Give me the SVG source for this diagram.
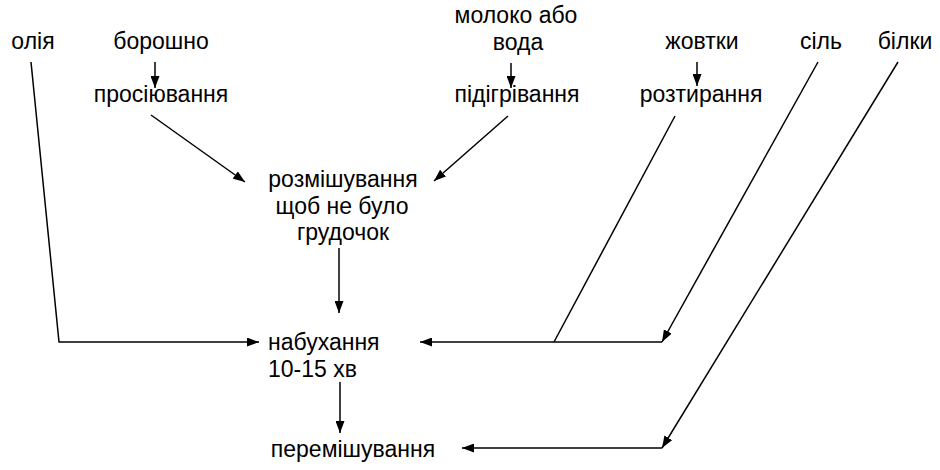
<svg xmlns="http://www.w3.org/2000/svg" width="940" height="470" viewBox="0 0 940 470">
<style>
text{font-family:"Liberation Sans",Arial,sans-serif;font-size:23px;fill:#000}
.c{text-anchor:middle}
.ln{stroke:#000;stroke-width:1.5;fill:none}
.ar{marker-end:url(#ah)}
</style>
<defs>
<marker id="ah" markerUnits="userSpaceOnUse" markerWidth="13" markerHeight="9" refX="12" refY="4.5" orient="auto">
<path d="M0,0 L12,4.5 L0,9 z" fill="#000"/>
</marker>
</defs>
<rect width="940" height="470" fill="#fff"/>
<g id="n-oliya"><text x="33" y="49" class="c">олія</text></g>
<g id="n-boroshno"><text x="161" y="49" class="c">борошно</text></g>
<g id="n-prosiyuvannya"><text x="161" y="102" class="c">просіювання</text></g>
<g id="n-moloko"><text x="516" y="23" class="c">молоко або</text><text x="518" y="50" class="c">вода</text></g>
<g id="n-pidigrivannya"><text x="517" y="102" class="c">підігрівання</text></g>
<g id="n-zhovtky"><text x="702" y="49" class="c">жовтки</text></g>
<g id="n-roztyrannya"><text x="701" y="102" class="c">розтирання</text></g>
<g id="n-sil"><text x="821" y="49" class="c">сіль</text></g>
<g id="n-bilky"><text x="905" y="49" class="c">білки</text></g>
<g id="n-rozmishuvannya"><text x="343" y="187" class="c">розмішування</text><text x="342" y="214" class="c">щоб не було</text><text x="343" y="240" class="c">грудочок</text></g>
<g id="n-nabukhannya"><text x="268" y="350">набухання</text><text x="268" y="377">10-15 хв</text></g>
<g id="n-peremishuvannya"><text x="353" y="457" class="c">перемішування</text></g>
<g id="connectors">
<line class="ln ar" x1="155" y1="62" x2="155" y2="88"/>
<line class="ln ar" x1="151" y1="115" x2="245" y2="182"/>
<line class="ln ar" x1="511" y1="63" x2="511" y2="88"/>
<line class="ln ar" x1="508" y1="116" x2="434" y2="181"/>
<line class="ln ar" x1="697" y1="62" x2="697" y2="86"/>
<line class="ln" x1="675" y1="116" x2="554" y2="342"/>
<line class="ln ar" x1="662" y1="342" x2="420" y2="342"/>
<line class="ln ar" x1="818" y1="62" x2="662" y2="342"/>
<line class="ln ar" x1="898" y1="62" x2="662" y2="448"/>
<line class="ln ar" x1="662" y1="448" x2="462" y2="448"/>
<polyline class="ln ar" points="31,62 59,342 259,342"/>
<line class="ln ar" x1="339" y1="248" x2="339" y2="313"/>
<line class="ln ar" x1="340" y1="382" x2="340" y2="433"/>
</g>
</svg>
